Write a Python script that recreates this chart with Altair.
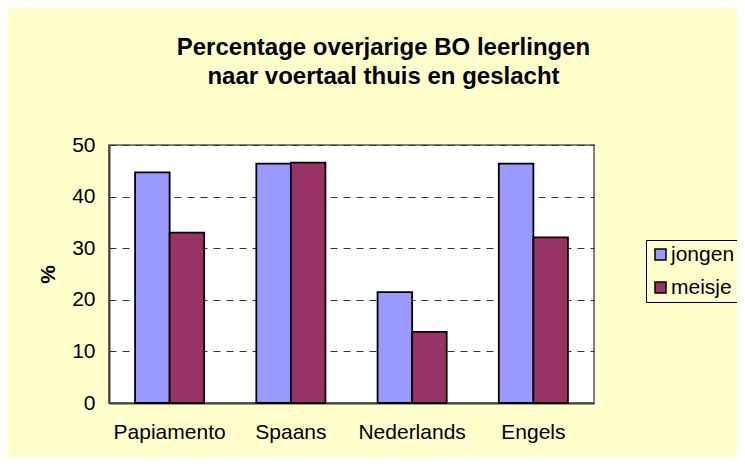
import altair as alt
import pandas as pd

categories = ["Papiamento", "Spaans", "Nederlands", "Engels"]
jongen = [44.7, 46.4, 21.5, 46.4]
meisje = [33.0, 46.6, 13.8, 32.1]
series = ["jongen", "meisje"]
colors = ["#9999FF", "#993366"]

rows = []
for i, c in enumerate(categories):
    rows.append({"taal": c, "geslacht": "jongen", "pct": jongen[i]})
    rows.append({"taal": c, "geslacht": "meisje", "pct": meisje[i]})
df = pd.DataFrame(rows)

FONT = "Liberation Sans"

chart = alt.Chart(df).mark_bar(stroke="black", strokeWidth=1.8).encode(
    x=alt.X("taal:N", sort=categories,
            scale=alt.Scale(paddingInner=0.43, paddingOuter=0.215),
            axis=alt.Axis(title=None, labelAngle=0, labelFontSize=21, labelFont=FONT,
                          labelColor="black", labelPadding=18, ticks=False,
                          domainColor="#404040", domainWidth=2)),
    xOffset=alt.XOffset("geslacht:N", sort=series, scale=alt.Scale(paddingInner=0, paddingOuter=0)),
    y=alt.Y("pct:Q", scale=alt.Scale(domain=[0, 50]),
            axis=alt.Axis(title="%", values=[0, 10, 20, 30, 40, 50], labelFontSize=21,
                          labelFont=FONT, labelColor="black", labelPadding=14, ticks=False,
                          titleFont=FONT, titleFontSize=21, titleFontWeight="bold",
                          titleColor="black", titlePadding=13,
                          domainColor="#404040", domainWidth=2,
                          grid=True, gridDash=[7, 6], gridColor="#333333", gridWidth=1)),
    color=alt.Color("geslacht:N", sort=series,
                    scale=alt.Scale(domain=series, range=colors),
                    legend=alt.Legend(title=None, orient="none", legendX=537, legendY=95,
                                      labelFontSize=21, labelFont=FONT, labelColor="black",
                                      symbolType="square", symbolSize=121,
                                      symbolStrokeColor="black", symbolStrokeWidth=1.5,
                                      labelOffset=0, rowPadding=11, padding=4,
                                      strokeColor="black", fillColor="#FFFFCC")),
).properties(
    width=485,
    height=258,
    title=alt.TitleParams(
        ["Percentage overjarige BO leerlingen", "naar voertaal thuis en geslacht"],
        fontSize=24, font=FONT, fontWeight="bold", color="black",
        anchor="middle", dx=32, offset=45, lineHeight=29),
    autosize=alt.AutoSizeParams(type="none"),
    padding={"left": 101, "top": 137, "right": 143, "bottom": 55},
).configure(
    background="#FFFFCC",
).configure_view(
    fill="white", stroke="#808080", strokeWidth=2,
)

chart.save("out.html", embed_options={"renderer": "svg", "actions": False})
